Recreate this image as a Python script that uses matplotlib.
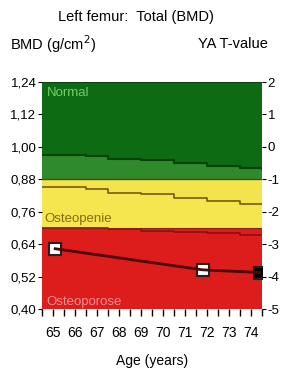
import matplotlib
matplotlib.use("Agg")
import matplotlib.pyplot as plt
import numpy as np

plt.rcParams['font.family'] = ['Liberation Sans Narrow', 'Liberation Sans', 'DejaVu Sans']

# Data
ages = [65.1, 71.8, 74.4]
bmd = [0.623, 0.545, 0.535]
markers_fill = ['white', 'white', 'black']

ref_age = [64.5, 66.5, 67.5, 69.0, 70.5, 72.0, 73.5, 74.5]
ref_normal = [0.970, 0.965, 0.955, 0.950, 0.940, 0.930, 0.920, 0.917]
ref_osteopenia = [0.850, 0.845, 0.830, 0.825, 0.810, 0.800, 0.790, 0.790]
ref_osteoporosis = [0.700, 0.698, 0.695, 0.690, 0.685, 0.680, 0.675, 0.675]

yticks = [0.40, 0.52, 0.64, 0.76, 0.88, 1.00, 1.12, 1.24]
ytick_labels = ['0,40', '0,52', '0,64', '0,76', '0,88', '1,00', '1,12', '1,24']
tticks = [-5, -4, -3, -2, -1, 0, 1, 2]
xticks = [65, 66, 67, 68, 69, 70, 71, 72, 73, 74]

fig = plt.figure(figsize=(2.83, 3.83), dpi=100)
ax = fig.add_axes([42/283, 1-309/383, 220/283, 227/383])

# bands
ax.axhspan(0.40, 0.70, color='#dd1c1c', lw=0)
ax.axhspan(0.70, 0.88, color='#f3e34c', lw=0)
ax.axhspan(0.88, 1.24, color='#0d6b14', lw=0)
ax.fill_between(ref_age, 0.88, ref_normal, step='post', color='#2f8a2c', lw=0)
ax.step(ref_age, ref_normal, where='post', color='#08400a', lw=1.5)
ax.fill_between(ref_age, 0.70, ref_osteopenia, step='post', color='#f5e64f', lw=0)
ax.step(ref_age, ref_osteopenia, where='post', color='#7a5a10', lw=1.2)
ax.step(ref_age, ref_osteoporosis, where='post', color='#8a1010', lw=1.2)
ax.axhline(0.88, color='#4a4a10', lw=1.0)
ax.axhline(0.70, color='#8a2010', lw=0.8)
ax.axhline(1.24, color='#0a3a0a', lw=1.2)

# patient line
for a, b, f in zip(ages, bmd, markers_fill):
    ax.plot(a, b, marker='s', ms=9, mfc=f, mec='#222222', mew=1.5, zorder=3)
ax.plot(ages, bmd, color='#4a0808', lw=2.0, zorder=4)

ax.text(64.7, 1.22, 'Normal', color='#6fd06a', fontsize=9.5, va='top')
ax.text(64.6, 0.71, 'Osteopenie', color='#8a6a10', fontsize=9.5, va='bottom')
ax.text(64.7, 0.405, 'Osteoporose', color='#f59090', fontsize=9.5, va='bottom')

ax.set_xlim(64.5, 74.5)
ax.set_ylim(0.40, 1.24)
ax.set_yticks(yticks)
ax.set_yticklabels(ytick_labels)
ax.set_xticks(xticks)
ax.set_xticks(np.arange(64.5, 74.6, 0.5), minor=True)
ax.tick_params(axis='x', which='both', length=5, width=1, direction='out', labelsize=10, pad=7)
ax.tick_params(axis='y', length=3, direction='out', labelsize=9.5, pad=1)
for s in ax.spines.values():
    s.set_visible(False)

ax2 = ax.twinx()
ax2.set_ylim(-5, 2)
ax2.set_yticks(tticks)
ax2.set_yticklabels([str(t) for t in tticks])
ax2.tick_params(axis='y', length=3, direction='out', labelsize=9.5, pad=1)
for s in ax2.spines.values():
    s.set_visible(False)

ax.set_xlabel('Age (years)', fontsize=10, labelpad=10)
fig.text(0.48, 1-17/383, 'Left femur:  Total (BMD)', ha='center', va='center', fontsize=10.5)
fig.text(10/283, 1-44/383, 'BMD (g/cm$^2$)', ha='left', va='center', fontsize=10.5)
fig.text(268/283, 1-44/383, 'YA T-value', ha='right', va='center', fontsize=10.5)

fig.savefig('out.png', dpi=100)
